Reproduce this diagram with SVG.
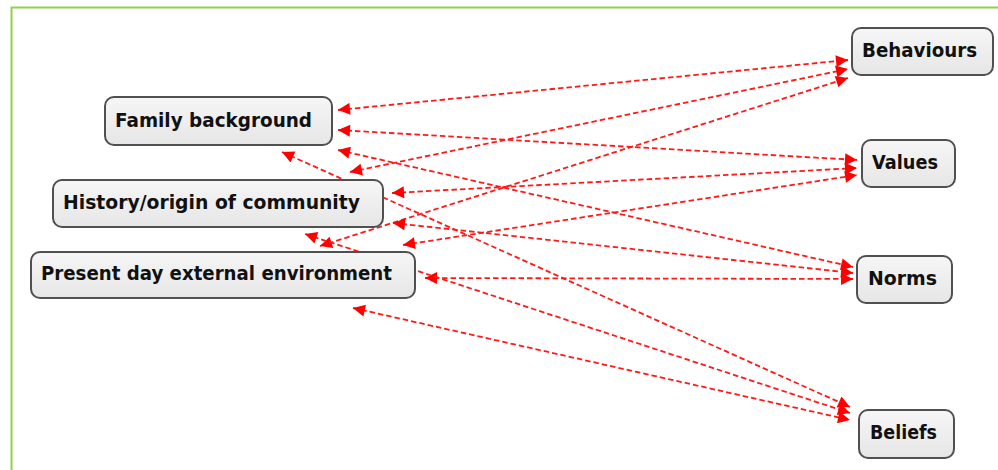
<svg xmlns="http://www.w3.org/2000/svg" width="998" height="470" viewBox="0 0 998 470">
<style>
.box{fill:url(#g);stroke:#505050;stroke-width:2}
.lbl{font-family:"DejaVu Sans","Liberation Sans",sans-serif;font-weight:bold;font-size:19px;fill:#111}
.c{stroke:#ff1a1a;stroke-width:1.8;stroke-dasharray:5.5 3;fill:none;marker-start:url(#ah);marker-end:url(#ah)}
</style>
<defs>
<linearGradient id="g" x1="0" y1="0" x2="0" y2="1">
<stop offset="0" stop-color="#f6f6f6"/>
<stop offset="1" stop-color="#e6e6e6"/>
</linearGradient>
<marker id="ah" viewBox="0 0 10 10" refX="10" refY="5" markerUnits="userSpaceOnUse" markerWidth="15" markerHeight="12" orient="auto-start-reverse">
<path d="M0,0 L10,5 L0,10 z" fill="#ff0000"/>
</marker>
</defs>
<rect width="998" height="470" fill="#ffffff"/>
<path d="M11.5,470 V7.5 H998" fill="none" stroke="#92d050" stroke-width="2"/>
<g id="connectors">
<line class="c" x1="338" y1="110" x2="848" y2="60"/>
<line class="c" x1="350" y1="172" x2="848" y2="69"/>
<line class="c" x1="320" y1="246" x2="848" y2="78"/>
<line class="c" x1="338" y1="130" x2="857" y2="160"/>
<line class="c" x1="392" y1="193" x2="857" y2="168"/>
<line class="c" x1="403" y1="245" x2="857" y2="175"/>
<line class="c" x1="338" y1="150" x2="853" y2="267"/>
<line class="c" x1="393" y1="223" x2="853" y2="273"/>
<line class="c" x1="425" y1="278" x2="853" y2="279"/>
<line class="c" x1="282" y1="152" x2="850" y2="407"/>
<line class="c" x1="305" y1="234" x2="850" y2="413"/>
<line class="c" x1="353" y1="308" x2="850" y2="420"/>
</g>
<g id="family">
<rect class="box" x="105" y="97" width="227" height="48" rx="9"/>
<text class="lbl" x="115" y="127" textLength="197" lengthAdjust="spacingAndGlyphs">Family background</text>
</g>
<g id="history">
<rect class="box" x="53" y="180" width="330" height="47" rx="9"/>
<text class="lbl" x="63" y="209" textLength="297" lengthAdjust="spacingAndGlyphs">History/origin of community</text>
</g>
<g id="present">
<rect class="box" x="31" y="252" width="384" height="46" rx="9"/>
<text class="lbl" x="41" y="280" textLength="351" lengthAdjust="spacingAndGlyphs">Present day external environment</text>
</g>
<g id="behaviours">
<rect class="box" x="852" y="28" width="141" height="47" rx="9"/>
<text class="lbl" x="862" y="57" textLength="115" lengthAdjust="spacingAndGlyphs">Behaviours</text>
</g>
<g id="values">
<rect class="box" x="862" y="140" width="93" height="47" rx="9"/>
<text class="lbl" x="872" y="169" textLength="66" lengthAdjust="spacingAndGlyphs">Values</text>
</g>
<g id="norms">
<rect class="box" x="857" y="256" width="95" height="47" rx="9"/>
<text class="lbl" x="868" y="285" textLength="69" lengthAdjust="spacingAndGlyphs">Norms</text>
</g>
<g id="beliefs">
<rect class="box" x="859" y="410" width="95" height="48" rx="9"/>
<text class="lbl" x="870" y="439" textLength="67" lengthAdjust="spacingAndGlyphs">Beliefs</text>
</g>
</svg>
